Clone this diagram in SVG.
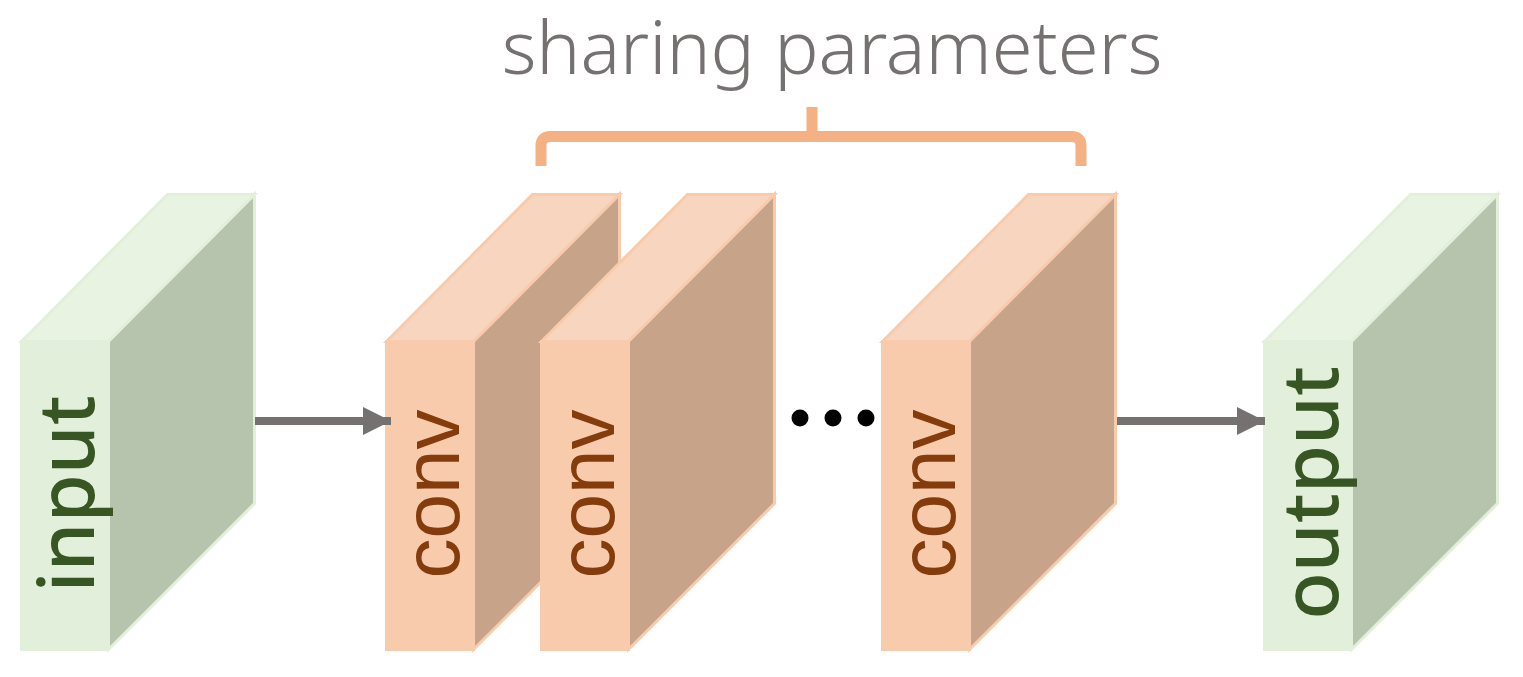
<svg xmlns="http://www.w3.org/2000/svg" width="1523" height="677" viewBox="0 0 1523 677">
<style>
.gf{fill:#E2EFDA}
.gt{fill:#E8F3E1}
.gs{fill:#B6C3AD}
.g path{stroke:#E2EFDA;stroke-width:3;stroke-linejoin:miter}
.of{fill:#F8CBAD}
.ot{fill:#F8D5BE}
.os{fill:#C7A38A}
.o path{stroke:#F8CBAD;stroke-width:3;stroke-linejoin:miter}
.lbl{font-family:"Noto Sans","DejaVu Sans",sans-serif;font-size:78px;font-weight:500;fill:#375623;text-anchor:middle}
.cl{font-family:"Liberation Sans",Arial,sans-serif;font-size:80px;fill:#843C0C;text-anchor:middle}
.conn{stroke:#767171;stroke-width:8;fill:none}
</style>
<defs>
<marker id="ah" markerWidth="28" markerHeight="28" refX="28" refY="14" orient="auto" markerUnits="userSpaceOnUse">
<path d="M0,0 L28,14 L0,28 Z" fill="#767171"/>
</marker>
</defs>
<text x="832" y="74" font-family="Noto Sans, DejaVu Sans, sans-serif" font-weight="300" font-size="74" fill="#767171" text-anchor="middle">sharing parameters</text>
<path d="M541,166 V146 Q541,136.5 550.5,136.5 H812 V107 M812,136.5 H1071.5 Q1081,136.5 1081,146 V166" fill="none" stroke="#F4B183" stroke-width="11"/>
<g id="input" class="g" transform="translate(21.5,341.5)">
<path class="gf" d="M0,0 H87 V308 H0 Z"/>
<path class="gt" d="M0,0 L146,-147 H233 L87,0 Z"/>
<path class="gs" d="M87,0 L233,-147 V162 L87,308 Z"/>
<text class="lbl" transform="translate(72.5,152.5) rotate(-90)">input</text>
</g>
<g id="conv1" class="o" transform="translate(386.5,341.5)">
<path class="of" d="M0,0 H87 V308 H0 Z"/>
<path class="ot" d="M0,0 L146,-147 H233 L87,0 Z"/>
<path class="os" d="M87,0 L233,-147 V162 L87,308 Z"/>
<text class="cl" transform="translate(72.5,152.5) rotate(-90)">conv</text>
</g>
<g id="conv2" class="o" transform="translate(541.5,341.5)">
<path class="of" d="M0,0 H87 V308 H0 Z"/>
<path class="ot" d="M0,0 L146,-147 H233 L87,0 Z"/>
<path class="os" d="M87,0 L233,-147 V162 L87,308 Z"/>
<text class="cl" transform="translate(72.5,152.5) rotate(-90)">conv</text>
</g>
<g id="dots" fill="#000">
<circle cx="800" cy="418" r="8.5"/>
<circle cx="833" cy="418" r="8.5"/>
<circle cx="866" cy="418" r="8.5"/>
</g>
<g id="conv3" class="o" transform="translate(882.5,341.5)">
<path class="of" d="M0,0 H87 V308 H0 Z"/>
<path class="ot" d="M0,0 L146,-147 H233 L87,0 Z"/>
<path class="os" d="M87,0 L233,-147 V162 L87,308 Z"/>
<text class="cl" transform="translate(72.5,152.5) rotate(-90)">conv</text>
</g>
<g id="output" class="g" transform="translate(1264.5,341.5)">
<path class="gf" d="M0,0 H87 V308 H0 Z"/>
<path class="gt" d="M0,0 L146,-147 H233 L87,0 Z"/>
<path class="gs" d="M87,0 L233,-147 V162 L87,308 Z"/>
<text class="lbl" transform="translate(73.5,151.5) rotate(-90)">output</text>
</g>
<g id="connectors">
<line class="conn" x1="255" y1="421" x2="391" y2="421" marker-end="url(#ah)"/>
<line class="conn" x1="1117" y1="421" x2="1265" y2="421" marker-end="url(#ah)"/>
</g>
</svg>
